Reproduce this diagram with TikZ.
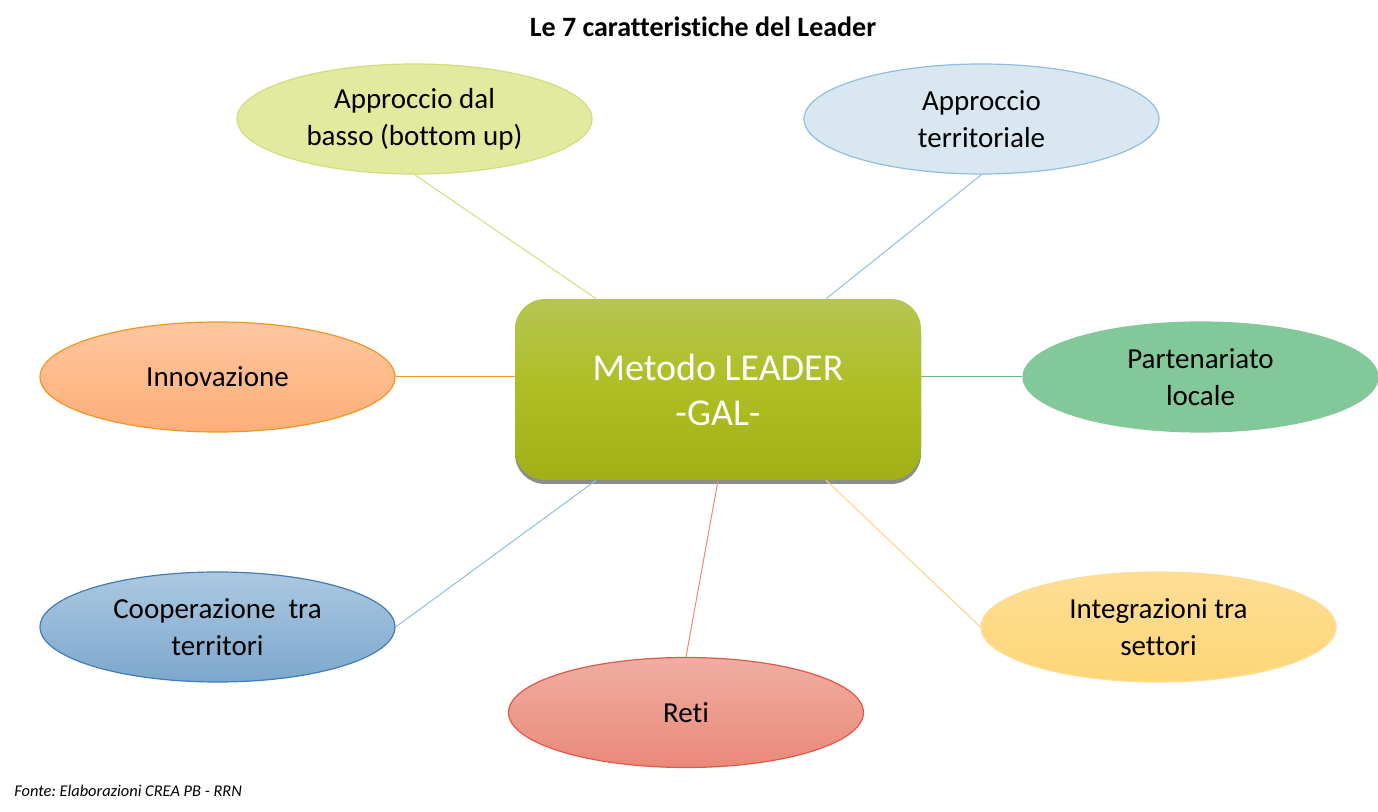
\documentclass[tikz,border=0pt]{standalone}
\usepackage{fontspec}
\setmainfont{Carlito}[Ligatures=NoCommon]
\usepackage{tikz}
\usetikzlibrary{positioning}
\usetikzlibrary{shapes,shadows,calc}

\definecolor{galtop}{RGB}{182,197,82}
\definecolor{galmid}{RGB}{174,190,34}
\definecolor{galbot}{RGB}{160,176,22}
\definecolor{bassofill}{RGB}{226,234,160}
\definecolor{bassoline}{RGB}{208,222,125}
\definecolor{terrfill}{RGB}{216,231,240}
\definecolor{terrline}{RGB}{145,190,220}
\definecolor{innovtop}{RGB}{255,199,160}
\definecolor{innovbot}{RGB}{253,174,120}
\definecolor{innovline}{RGB}{242,150,35}
\definecolor{partfill}{RGB}{130,200,152}
\definecolor{partline}{RGB}{110,180,130}
\definecolor{cooptop}{RGB}{172,200,224}
\definecolor{coopbot}{RGB}{124,168,205}
\definecolor{coopline}{RGB}{65,125,180}
\definecolor{retitop}{RGB}{240,174,162}
\definecolor{retibot}{RGB}{234,137,122}
\definecolor{retiline}{RGB}{222,90,70}
\definecolor{integrtop}{RGB}{254,222,150}
\definecolor{integrbot}{RGB}{254,214,118}
\definecolor{integrline}{RGB}{254,210,130}
\tikzset{bubble/.style={ellipse, draw, line width=0.6pt, inner sep=0pt,
    minimum width=177.5pt, minimum height=55pt, align=center,
    font=\fontsize{14.5}{18.5}\selectfont}}
\tikzset{link/.style={line width=0.5pt}}

\begin{document}
\frenchspacing
\begin{tikzpicture}[x=0.5pt,y=-0.5pt]
\useasboundingbox (0,0) rectangle (1378,812);
\node[font=\bfseries\fontsize{14}{17}\selectfont] (title) at (703,27) {Le 7 caratteristiche del Leader};
% centre
\node[rounded corners=15pt, minimum width=203pt, minimum height=90.5pt,
      top color=galtop, bottom color=galbot, middle color=galmid,
      drop shadow={shadow xshift=0pt, shadow yshift=-2pt, opacity=0.6, fill=black!75},
      text=white, align=center, font=\fontsize{19}{22.5}\selectfont] (gal) at (718,389.5) {Metodo LEADER\\-GAL-};
% bubbles
\node[bubble, fill=bassofill, draw=bassoline] (basso) at (414.5,119) {Approccio dal\\basso (bottom up)};
\node[bubble, fill=terrfill, draw=terrline] (terr) at (981.5,119) {Approccio\\territoriale};
\node[bubble, top color=innovtop, bottom color=innovbot, draw=innovline] (innov) at (217.5,377) {Innovazione};
\node[bubble, fill=partfill, draw=partfill] (part) at (1200.5,377) {Partenariato\\locale};
\node[bubble, top color=cooptop, bottom color=coopbot, draw=coopline] (coop) at (217.5,627) {Cooperazione\ \ tra\\territori};
\node[bubble, top color=retitop, bottom color=retibot, draw=retiline] (reti) at (686,712.5) {Reti};
\node[bubble, top color=integrtop, bottom color=integrbot, draw=integrtop] (integr) at (1158.5,627) {Integrazioni tra\\settori};
% links
\draw[link, bassoline] (basso.south) -- ($(gal.north west)!0.2!(gal.north east)$);
\draw[link, terrline] (terr.south) -- ($(gal.north west)!0.766!(gal.north east)$);
\draw[link, innovline] (innov.east) -- (innov.east -| gal.west);
\draw[link, partline] (part.west) -- (part.west -| gal.east);
\draw[link, terrline] (coop.east) -- ($(gal.south west)!0.2!(gal.south east)$);
\draw[link, retiline!70] (reti.north) -- (gal.south);
\draw[link, integrline] (integr.west) -- ($(gal.south west)!0.766!(gal.south east)$);
\node[anchor=west, inner sep=0pt, font=\itshape\fontsize{8.2}{10}\selectfont] (src) at (14,791) {Fonte: Elaborazioni CREA PB - RRN};
\end{tikzpicture}
\end{document}
